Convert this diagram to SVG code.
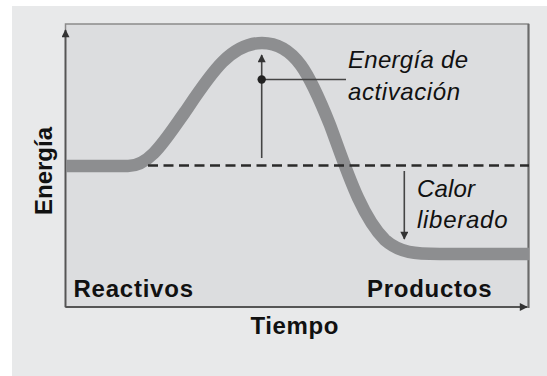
<svg xmlns="http://www.w3.org/2000/svg" width="547" height="376" viewBox="0 0 547 376">
<defs>
<style>
.lbl{font-family:"Liberation Sans",Arial,Helvetica,sans-serif;font-size:24px;fill:#111}
.b{font-weight:bold}
.i{font-style:italic}
.ax{stroke:#555;stroke-width:1.8;fill:none}
.ar{stroke:#444;stroke-width:1.6;fill:none}
</style>
<marker id="ah" viewBox="0 0 10 10" refX="9" refY="5" markerWidth="9" markerHeight="8" markerUnits="userSpaceOnUse" orient="auto">
<path d="M0,0 L10,5 L0,10 Z" fill="#333"/>
</marker>
<marker id="ahs" viewBox="0 0 10 10" refX="9" refY="5" markerWidth="9" markerHeight="8" markerUnits="userSpaceOnUse" orient="auto">
<path d="M0,0 L10,5 L0,10 Z" fill="#333"/>
</marker>
</defs>
<rect x="0" y="0" width="547" height="376" fill="#ffffff"/>
<rect x="12" y="6" width="535" height="370" fill="#e8e9ea"/>
<g id="plot">
<rect x="65.5" y="24" width="463" height="283" fill="#dcdddf" stroke="#8a8a8a" stroke-width="1.5"/>
<line x1="528.5" y1="24" x2="528.5" y2="308" stroke="#6a6a6a" stroke-width="2"/>
</g>
<g id="connectors">
<line class="ax" x1="65.5" y1="307" x2="65.5" y2="30" marker-end="url(#ah)"/>
<line class="ax" x1="65.5" y1="307" x2="527" y2="307" marker-end="url(#ah)"/>
<path id="curve" d="M66,166 L128,166 C150,166 165,140 185,112 C210,75 230,43 262,43 C295,43 310,75 330,125 C345,165 360,215 385,240 C400,253 415,254 440,254 L529,254" fill="none" stroke="#8d8e90" stroke-width="12.5"/>
<line x1="148" y1="165.5" x2="529" y2="165.5" stroke="#2a2a2a" stroke-width="2.5" stroke-dasharray="10,5.5"/>
<line class="ar" x1="261.7" y1="158" x2="261.7" y2="55" marker-end="url(#ahs)"/>
<line class="ar" x1="261.7" y1="79.5" x2="346" y2="79.5"/>
<circle cx="261.7" cy="79.5" r="4.2" fill="#222"/>
<line class="ar" x1="404.3" y1="171" x2="404.3" y2="239" marker-end="url(#ahs)"/>
</g>
<g id="label-energia-activacion">
<text class="lbl i" x="348" y="68.3" textLength="120" lengthAdjust="spacing">Energía de</text>
<text class="lbl i" x="348" y="100" textLength="112" lengthAdjust="spacing">activación</text>
</g>
<g id="label-calor">
<text class="lbl i" x="417" y="197.3" textLength="58" lengthAdjust="spacing">Calor</text>
<text class="lbl i" x="417" y="228.3" textLength="90.5" lengthAdjust="spacing">liberado</text>
</g>
<g id="label-reactivos">
<text class="lbl b" x="73.5" y="296.7" textLength="119.5" lengthAdjust="spacing">Reactivos</text>
</g>
<g id="label-productos">
<text class="lbl b" x="367" y="296.7" textLength="124.5" lengthAdjust="spacing">Productos</text>
</g>
<g id="label-tiempo">
<text class="lbl b" x="250.4" y="334.3" textLength="88" lengthAdjust="spacing">Tiempo</text>
</g>
<g id="label-energia">
<text class="lbl b" transform="translate(51.7,215) rotate(-90)" x="0" y="0" textLength="88" lengthAdjust="spacing">Energía</text>
</g>
</svg>
